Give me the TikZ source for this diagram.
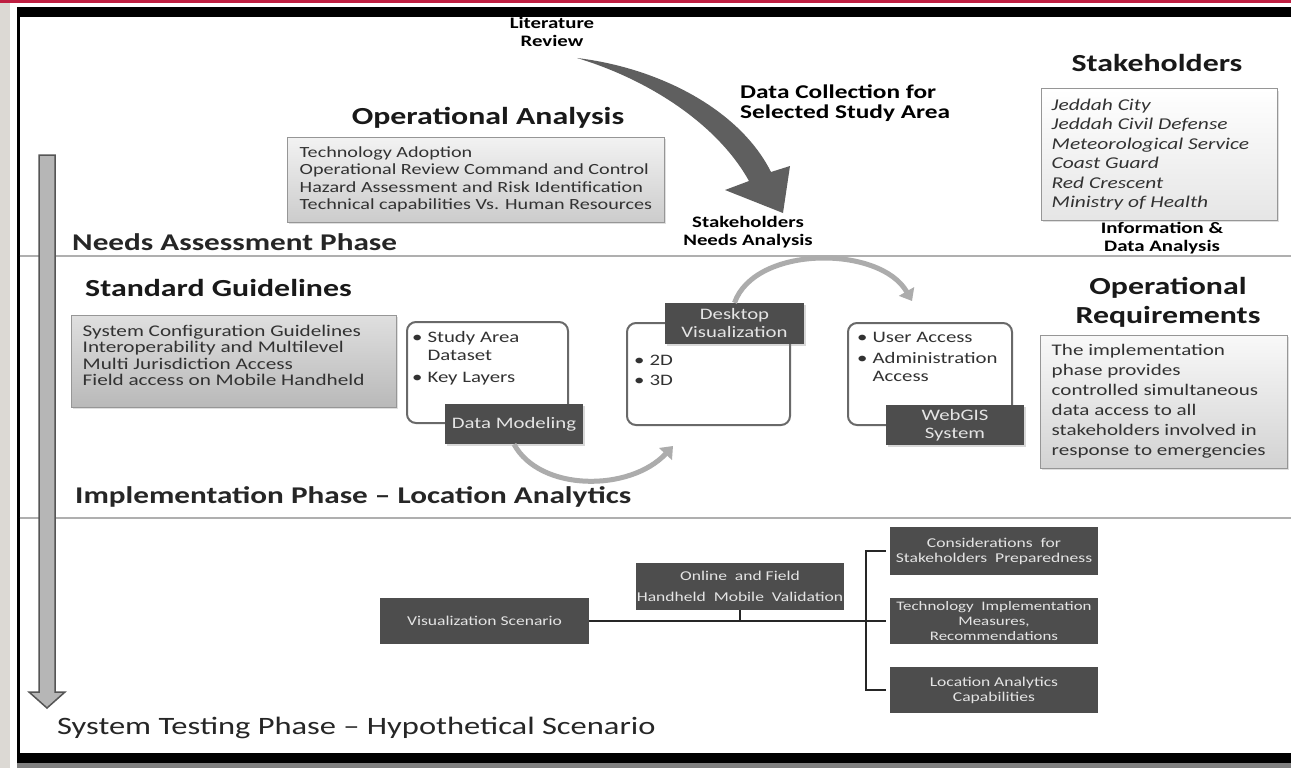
\documentclass[tikz,border=0pt]{standalone}
\usepackage{fontspec}
\setmainfont{Carlito}[FakeStretch=1.3]
\usetikzlibrary{arrows.meta,shadows}

\definecolor{deepred}{RGB}{190,30,65}
\definecolor{sidegray}{RGB}{220,217,212}
\definecolor{sepgray}{RGB}{175,175,175}
\definecolor{arrowfill}{RGB}{182,182,182}
\definecolor{arrowedge}{RGB}{85,85,85}
\definecolor{darkfill}{RGB}{77,77,77}
\definecolor{labeltext}{RGB}{228,228,228}
\definecolor{roundedge}{RGB}{105,105,105}
\definecolor{boxedge}{RGB}{150,150,150}
\definecolor{textgray}{RGB}{50,50,50}
\definecolor{arcgray}{RGB}{172,172,172}

\begin{document}
\begin{tikzpicture}[
  phase_text/.style={inner sep=0pt, text=black!85, font=\fontsize{24}{28}\selectfont\bfseries},
  head_text/.style={inner sep=0pt, align=center, text=black!90, font=\fontsize{24.5}{29}\selectfont\bfseries},
  small_text/.style={inner sep=0pt, align=center, font=\fontsize{16}{18.5}\selectfont\bfseries},
  mid_text/.style={inner sep=0pt, align=left, font=\fontsize{19.5}{20}\selectfont\bfseries},
  grey_box/.style={rectangle, draw=boxedge, line width=1pt, top color=gray!12, bottom color=gray!50,
    drop shadow={opacity=0.25, shadow xshift=2pt, shadow yshift=-2pt}},
  box_text/.style={inner sep=0pt, align=left, text=textgray, font=\fontsize{15.5}{17.5}\selectfont},
  round_box/.style={rectangle, rounded corners=9pt, draw=roundedge, line width=2pt, fill=white},
  bullet_text/.style={inner sep=0pt, text=textgray, font=\fontsize{16}{18}\selectfont},
  dark_label/.style={rectangle, fill=darkfill, text=labeltext, align=center, inner sep=0pt,
    font=\fontsize{16}{18}\selectfont, drop shadow={opacity=0.3, shadow xshift=1.5pt, shadow yshift=-1.5pt}},
  bottom_box/.style={rectangle, fill=darkfill, text=labeltext, align=center, inner sep=0pt,
    minimum width=208pt, font=\fontsize{13.5}{15}\selectfont},
  arc_line/.style={draw=arcgray, line width=5pt, -{Triangle[length=11pt,width=17pt]}},
  link_line/.style={draw=black!85, line width=2.5pt},
  sep_line/.style={draw=sepgray, line width=1.5pt},
]
\useasboundingbox (0,0) rectangle (1291pt,-768pt);
% page edges and frame
\fill[white] (0,0) rectangle (1291pt,-768pt);
\fill[deepred] (0,0) rectangle (1291pt,-3pt);
\fill[sidegray] (0,-3pt) rectangle (10pt,-768pt);
\fill[black] (17pt,-7pt) rectangle (1291pt,-17pt);
\fill[black] (17pt,-753pt) rectangle (1291pt,-763pt);
\fill[gray] (17pt,-763pt) rectangle (1291pt,-768pt);
\fill[black] (17pt,-7pt) rectangle (19.5pt,-763pt);
\draw[sep_line] (19.5pt,-256pt) -- (1291pt,-256pt);
\draw[sep_line] (19.5pt,-518pt) -- (1291pt,-518pt);

% phase arrow
\draw[draw=arrowedge, fill=arrowfill, line width=1.5pt] (39pt,-155pt) -- (55pt,-155pt) -- (55pt,-692pt)
  -- (65pt,-692pt) -- (47pt,-708pt) -- (29pt,-692pt) -- (39pt,-692pt) -- cycle;

% needs assessment
\draw (552pt,-32pt) node (lit_rev) [small_text] {Literature\\Review};
\fill[darkfill!90] (577pt,-58pt) .. controls (660pt,-68pt) and (740pt,-110pt) .. (771pt,-172pt)
  -- (790pt,-166pt) -- (783pt,-213pt) -- (725pt,-190pt) -- (749pt,-181pt)
  .. controls (718pt,-125pt) and (650pt,-80pt) .. cycle;
\draw (740pt,-103pt) node (data_coll) [mid_text, right] {Data Collection for\\Selected Study Area};
\draw (748pt,-232pt) node (needs_an) [small_text] {Stakeholders\\Needs Analysis};
\draw (488pt,-118pt) node (oa_head) [head_text] {Operational Analysis};
\draw (475.5pt,-179.5pt) node (oa_box) [grey_box, minimum width=377pt, minimum height=85pt, top color=gray!10, bottom color=gray!40] {};
\draw (oa_box.west) node (oa_list) [box_text, right, xshift=13pt]
  {Technology Adoption\\Operational Review Command and Control\\Hazard Assessment and Risk Identification\\Technical capabilities Vs. Human Resources};
\draw (1157pt,-63pt) node (sh_head) [head_text] {Stakeholders};
\draw (1159pt,-154.5pt) node (sh_box) [grey_box, minimum width=236pt, minimum height=131pt, top color=white, bottom color=gray!20] {};
\draw (sh_box.west) node (sh_list) [box_text, right, xshift=11pt, font=\fontsize{16.5}{19.5}\selectfont\itshape]
  {Jeddah City\\Jeddah Civil Defense\\Meteorological Service\\Coast Guard\\Red Crescent\\Ministry of Health};
\draw (1162pt,-238pt) node (info_an) [small_text] {Information \&\\Data Analysis};
\draw (72pt,-242pt) node (needs) [phase_text, right] {Needs Assessment Phase};

% implementation
\draw (85pt,-288pt) node (sg_head) [head_text, right] {Standard Guidelines};
\draw (233.5pt,-361pt) node (sg_box) [grey_box, minimum width=325pt, minimum height=92pt, top color=gray!25, bottom color=gray!55] {};
\draw (sg_box.west) node (sg_list) [box_text, right, xshift=12pt, yshift=5.5pt, font=\fontsize{16.3}{16.5}\selectfont]
  {System Configuration Guidelines\\Interoperability and Multilevel\\Multi Jurisdiction Access\\Field access on Mobile Handheld};

\draw (487.5pt,-372.5pt) node (dm_box) [round_box, minimum width=161pt, minimum height=101pt] {};
\draw (708.5pt,-374pt) node (dv_box) [round_box, minimum width=163pt, minimum height=102pt] {};
\draw (930pt,-374pt) node (wg_box) [round_box, minimum width=164pt, minimum height=102pt] {};
\draw (412pt,-342pt) node (dm_list) [bullet_text, anchor=base west]
  {\begin{tabular}[t]{@{}l@{\hspace{5pt}}l@{}}•&Study Area\\&Dataset\\[4pt]•&Key Layers\end{tabular}};
\draw (634pt,-365pt) node (dv_list) [bullet_text, anchor=base west]
  {\begin{tabular}[t]{@{}l@{\hspace{5pt}}l@{}}•&2D\\[2pt]•&3D\end{tabular}};
\draw (857pt,-342pt) node (wg_list) [bullet_text, anchor=base west]
  {\begin{tabular}[t]{@{}l@{\hspace{5pt}}l@{}}•&User Access\\[3pt]•&Administration\\&Access\end{tabular}};
\draw (514pt,-424pt) node (dm_label) [dark_label, minimum width=138pt, minimum height=40pt] {Data Modeling};
\draw (734.5pt,-323.5pt) node (dv_label) [dark_label, minimum width=139pt, minimum height=41pt] {Desktop\\Visualization};
\draw (955pt,-425pt) node (wg_label) [dark_label, minimum width=138pt, minimum height=40pt] {WebGIS\\System};
\coordinate (dv_in) at (673pt,-446pt);
\coordinate (wg_in) at (912pt,-301pt);
\draw[arc_line] (dm_label.south) .. controls (540pt,-492pt) and (630pt,-492pt) .. (dv_in);
\draw[arc_line] (dv_label.north) .. controls (755pt,-245pt) and (880pt,-245pt) .. (wg_in);

\draw (1168pt,-302.5pt) node (or_head) [head_text] {Operational\\Requirements};
\draw (1163.5pt,-401.5pt) node (or_box) [grey_box, minimum width=247pt, minimum height=133pt, top color=gray!5, bottom color=gray!35] {};
\draw (or_box.west) node (or_text) [box_text, right, xshift=12pt, font=\fontsize{16.2}{20}\selectfont]
  {The implementation\\phase provides\\controlled simultaneous\\data access to all\\stakeholders involved in\\response to emergencies};
\draw (75pt,-497pt) node (impl) [phase_text, right] {Implementation Phase -- Location Analytics};

% system testing
\draw (484.5pt,-621pt) node (vis_scen) [bottom_box, minimum width=209pt, minimum height=46pt] {Visualization Scenario};
\draw (740pt,-586.5pt) node (online) [bottom_box, minimum height=47pt, font=\fontsize{13.5}{21}\selectfont] {Online\ \ and Field\\Handheld\ \ Mobile\ \ Validation};
\draw (994pt,-551pt) node (consid) [bottom_box, minimum height=48pt] {Considerations\ \ for\\Stakeholders\ \ Preparedness};
\draw (994pt,-621pt) node (tech_imp) [bottom_box, minimum height=46pt, font=\fontsize{13}{15}\selectfont] {Technology\ \ Implementation\\Measures,\\Recommendations};
\draw (994pt,-690pt) node (loc_an) [bottom_box, minimum height=46pt] {Location Analytics\\Capabilities};
\coordinate (brace_mid) at (866pt,-621pt);
\draw[link_line, shorten >=4pt] (vis_scen.east) -- (tech_imp.west);
\draw[link_line] (online.south) -- (online.south |- vis_scen.east);
\draw[link_line, shorten <=4pt, shorten >=4pt] (consid.west) -| (brace_mid) |- (loc_an.west);
\draw (57pt,-728pt) node (sys_test) [phase_text, right, font=\fontsize{25}{28}\selectfont] {System Testing Phase -- Hypothetical Scenario};
\end{tikzpicture}
\end{document}
